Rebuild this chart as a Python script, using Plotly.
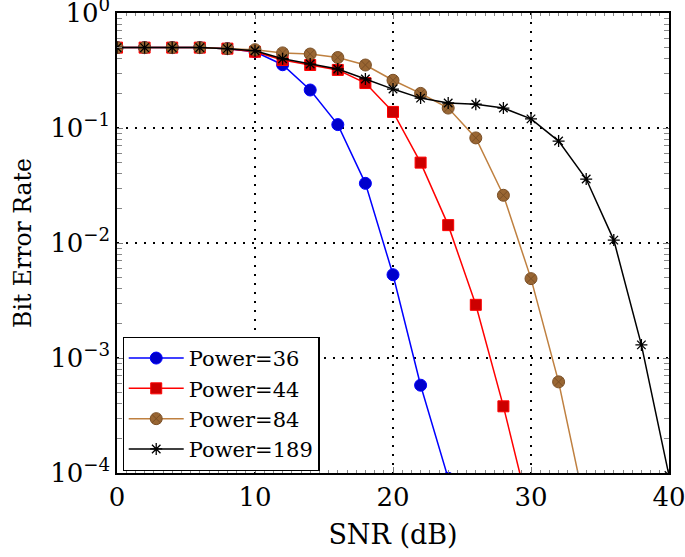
import plotly.graph_objects as go

snr = [0, 2, 4, 6, 8, 10, 12, 14, 16, 18, 20, 22, 24, 26, 28, 30, 32, 34, 36, 38, 40]

ber_36 = [0.5, 0.5, 0.5, 0.5, 0.49, 0.46, 0.355, 0.214, 0.107, 0.033, 0.0053, 0.00058, 0.00009]
ber_44 = [0.5, 0.5, 0.5, 0.5, 0.49, 0.46, 0.39, 0.353, 0.32, 0.246, 0.138, 0.05, 0.0143, 0.0029, 0.00038, 0.00004]
ber_84 = [0.5, 0.5, 0.5, 0.5, 0.49, 0.48, 0.45, 0.44, 0.41, 0.353, 0.26, 0.2, 0.149, 0.082, 0.026, 0.0049, 0.00062, 0.000046]
ber_189 = [0.5, 0.5, 0.5, 0.5, 0.49, 0.47, 0.4, 0.36, 0.326, 0.267, 0.218, 0.182, 0.165, 0.161, 0.149, 0.12, 0.077, 0.036, 0.0106, 0.0013, 0.000095]

names = ["Power=36", "Power=44", "Power=84", "Power=189"]
y_tickvals = [1e-4, 1e-3, 1e-2, 1e-1, 1]
y_ticktext = ["10<sup>−4</sup>", "10<sup>−3</sup>", "10<sup>−2</sup>", "10<sup>−1</sup>", "10<sup>0</sup>"]
x_tickvals = [0, 10, 20, 30, 40]

series = [ber_36, ber_44, ber_84, ber_189]
line_colors = ["#0000FF", "#FF0000", "#BF8040", "#000000"]
fill_colors = ["#0000CC", "#CC0000", "#996633", "#000000"]
symbols = ["circle", "square", "circle-x", "asterisk-open"]
sizes = [12, 11, 12, 10]

fig = go.Figure()
for ys, nm, lc, fc, sym, sz in zip(series, names, line_colors, fill_colors, symbols, sizes):
    if sym == "asterisk-open":
        marker = dict(symbol=sym, size=sz, color="#000000", line=dict(color="#000000", width=1.3))
    elif sym == "circle-x":
        marker = dict(symbol=sym, size=sz, color=fc, line=dict(color="#7A4F26", width=1))
    else:
        marker = dict(symbol=sym, size=sz, color=fc, line=dict(color=lc, width=1))
    fig.add_trace(go.Scatter(
        x=snr[:len(ys)], y=ys, name=nm, mode="lines+markers",
        line=dict(color=lc, width=1.5), marker=marker, cliponaxis=True,
    ))

font_family = "DejaVu Serif, serif"
fig.update_layout(
    width=685, height=557,
    margin=dict(l=117, r=16, t=13, b=84, autoexpand=False),
    paper_bgcolor="white", plot_bgcolor="white",
    font=dict(family=font_family, color="black", size=24),
    showlegend=True,
    legend=dict(
        x=0.01, y=0.005, xanchor="left", yanchor="bottom",
        bordercolor="black", borderwidth=1.2, bgcolor="white",
        font=dict(size=21, family=font_family), tracegroupgap=0,
        itemwidth=55,
    ),
    xaxis=dict(
        range=[0, 40], tickvals=x_tickvals, automargin=False,
        ticks="inside", ticklen=6, tickcolor="#777",
        showline=True, linecolor="black", linewidth=1.5, mirror="ticks",
        showgrid=True, gridcolor="black", griddash="2px,7px", gridwidth=1.5,
        zeroline=False, ticklabeloverflow="allow",
        minor=dict(ticks="inside", ticklen=3, dtick=2 / 3, tickcolor="#888", showgrid=False),
        title=dict(text="SNR (dB)", font=dict(size=27), standoff=14),
        tickfont=dict(size=26),
    ),
    yaxis=dict(
        type="log", range=[-4, 0], automargin=False,
        tickvals=y_tickvals, ticktext=y_ticktext,
        ticks="inside", ticklen=6, tickcolor="#777",
        showline=True, linecolor="black", linewidth=1.5, mirror="ticks",
        showgrid=True, gridcolor="black", griddash="2px,7px", gridwidth=1.5,
        zeroline=False, ticklabeloverflow="allow",
        minor=dict(ticks="inside", ticklen=5, dtick="D1", tickcolor="#888", showgrid=False),
        title=dict(text="Bit Error Rate", font=dict(size=23.5), standoff=12),
        tickfont=dict(size=26),
    ),
)

fig.write_html("out.html", config={"displayModeBar": False},
               post_script="document.body.style.margin='0px';")
